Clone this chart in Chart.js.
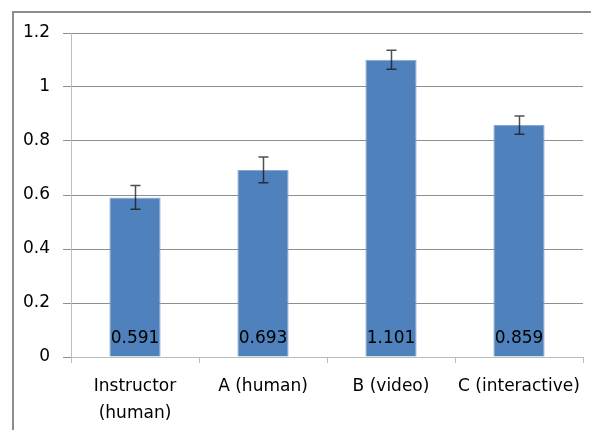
<!DOCTYPE html>
<html>
<head>
<meta charset="utf-8">
<script src="https://cdn.jsdelivr.net/npm/chart.js@4"></script>
<style>
html,body{margin:0;padding:0;background:#fff;}
#wrap{position:relative;width:591px;height:430px;}
</style>
</head>
<body>
<div id="wrap"><canvas id="c" width="591" height="430"></canvas></div>
<script>
const categories = [["Instructor", "(human)"], "A (human)", "B (video)", "C (interactive)"];
const means = [0.591, 0.693, 1.101, 0.859];
const errors = [0.044, 0.048, 0.035, 0.034];
const yTicks = [0, 0.2, 0.4, 0.6, 0.8, 1, 1.2];

const FONT = "'DejaVu Sans', sans-serif";

const frame = {
  id: 'frame',
  beforeDraw(chart) {
    const ctx = chart.ctx;
    ctx.save();
    ctx.fillStyle = '#8c8c8c';
    ctx.fillRect(12, 11, 2, 430);
    ctx.fillRect(12, 11, 591, 2);
    ctx.restore();
  }
};

const errBars = {
  id: 'errBars',
  afterDatasetsDraw(chart) {
    const ctx = chart.ctx;
    const y = chart.scales.y;
    const meta = chart.getDatasetMeta(0);
    ctx.save();
    ctx.strokeStyle = 'rgba(20,20,20,0.75)';
    ctx.lineWidth = 1.5;
    meta.data.forEach((bar, i) => {
      const x = Math.round(bar.x) + 0.5;
      const yt = y.getPixelForValue(means[i] + errors[i]);
      const yb = y.getPixelForValue(means[i] - errors[i]);
      ctx.beginPath();
      ctx.moveTo(x, yt); ctx.lineTo(x, yb);
      ctx.moveTo(x - 5, yt); ctx.lineTo(x + 5, yt);
      ctx.moveTo(x - 5, yb); ctx.lineTo(x + 5, yb);
      ctx.stroke();
    });
    ctx.restore();
  }
};

const valueLabels = {
  id: 'valueLabels',
  afterDatasetsDraw(chart) {
    const ctx = chart.ctx;
    const y = chart.scales.y;
    const meta = chart.getDatasetMeta(0);
    ctx.save();
    ctx.fillStyle = '#000';
    ctx.font = '17px ' + FONT;
    ctx.textAlign = 'center';
    ctx.textBaseline = 'middle';
    const base = y.getPixelForValue(0);
    meta.data.forEach((bar, i) => {
      ctx.fillText(means[i].toFixed(3), bar.x, base - 18);
    });
    ctx.restore();
  }
};

new Chart(document.getElementById('c'), {
  type: 'bar',
  data: {
    labels: categories,
    datasets: [{
      data: means,
      backgroundColor: '#4f81bd',
      borderColor: '#86a8d3',
      borderWidth: { left: 1, right: 1, top: 1, bottom: 0 },
      barPercentage: 0.4,
      categoryPercentage: 1.0
    }]
  },
  options: {
    responsive: false,
    animation: false,
    devicePixelRatio: 1,
    layout: { padding: { top: 33, left: 0, right: 8, bottom: 0 } },
    plugins: { legend: { display: false }, tooltip: { enabled: false } },
    scales: {
      y: {
        min: 0, max: 1.2,
        afterBuildTicks(scale) { scale.ticks = yTicks.map(v => ({ value: v })); },
        afterFit(scale) { scale.width = 71; },
        ticks: {
          padding: 13,
          color: '#000',
          font: { family: FONT, size: 17 },
          callback: v => String(Number(v.toFixed(1)))
        },
        grid: { color: '#8e8e8e', tickLength: 8, lineWidth: 1 },
        border: { color: '#bdbdbd', width: 1 }
      },
      x: {
        afterFit(scale) { scale.height = 73; },
        ticks: {
          padding: 10,
          color: '#000',
          maxRotation: 0,
          autoSkip: false,
          font: { family: FONT, size: 17, lineHeight: 1.6 }
        },
        grid: { drawOnChartArea: false, tickLength: 6, color: '#bdbdbd', offset: true },
        border: { color: '#bdbdbd', width: 1 }
      }
    }
  },
  plugins: [frame, errBars, valueLabels]
});
</script>
</body>
</html>
